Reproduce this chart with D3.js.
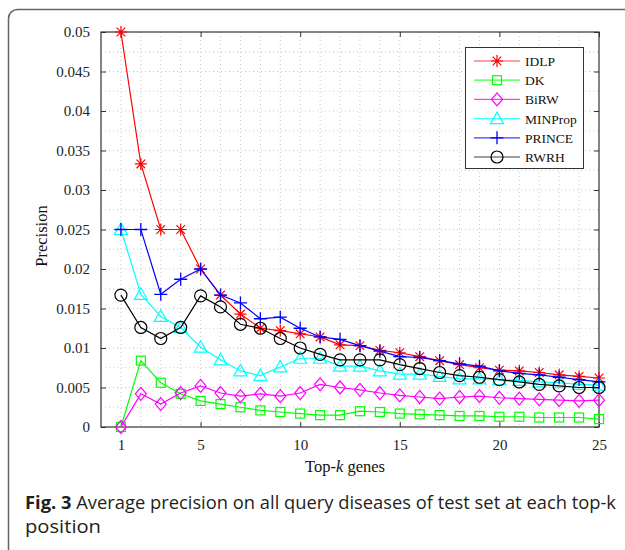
<!DOCTYPE html>
<html>
<head>
<meta charset="utf-8">
<script src="https://cdn.jsdelivr.net/npm/d3@7"></script>
<style>
  html, body { margin: 0; padding: 0; background: #fff; }
  svg { display: block; }
</style>
</head>
<body>
<svg id="chart" width="625" height="550"></svg>
<script>
// ---- data ----
const topK = d3.range(1, 26);
const seriesNames = ["IDLP", "DK", "BiRW", "MINProp", "PRINCE", "RWRH"];
const IDLP = [0.05, 0.0333, 0.025, 0.025, 0.02, 0.0167, 0.0143, 0.0125, 0.0122, 0.0118, 0.0114, 0.0104, 0.0103, 0.0097, 0.0094, 0.0089, 0.0084, 0.0079, 0.0075, 0.0072, 0.0071, 0.0069, 0.0066, 0.0064, 0.0062];
const DK = [0, 0.0084, 0.0056, 0.0042, 0.0033, 0.0029, 0.0025, 0.0021, 0.0019, 0.0017, 0.0015, 0.0015, 0.0020, 0.0019, 0.0017, 0.0016, 0.0015, 0.0014, 0.0014, 0.0013, 0.0013, 0.0012, 0.0012, 0.0012, 0.0010];
const BiRW = [0, 0.0042, 0.0029, 0.0043, 0.0052, 0.0043, 0.0039, 0.0042, 0.0039, 0.0043, 0.0054, 0.0050, 0.0047, 0.0043, 0.0040, 0.0038, 0.0036, 0.0038, 0.0039, 0.0037, 0.0036, 0.0035, 0.0034, 0.0033, 0.0034];
const MINProp = [0.025, 0.0168, 0.0140, 0.0126, 0.0101, 0.0085, 0.0071, 0.0065, 0.0076, 0.0087, 0.0087, 0.0077, 0.0077, 0.0071, 0.0067, 0.0067, 0.0064, 0.0061, 0.0061, 0.0060, 0.0059, 0.0057, 0.0056, 0.0054, 0.0053];
const PRINCE = [0.025, 0.025, 0.0168, 0.0187, 0.02, 0.0167, 0.0157, 0.0137, 0.0139, 0.0125, 0.0114, 0.0111, 0.0103, 0.0096, 0.0089, 0.0088, 0.0084, 0.0080, 0.0077, 0.0071, 0.0068, 0.0066, 0.0063, 0.0060, 0.0057];
const RWRH = [0.0167, 0.0126, 0.0112, 0.0126, 0.0166, 0.0152, 0.0130, 0.0125, 0.0112, 0.0100, 0.0092, 0.0085, 0.0085, 0.0085, 0.0079, 0.0074, 0.0069, 0.0065, 0.0063, 0.0060, 0.0057, 0.0054, 0.0052, 0.0050, 0.0050];
const xTicks = [1, 5, 10, 15, 20, 25];
const yTicks = [0, 0.005, 0.01, 0.015, 0.02, 0.025, 0.03, 0.035, 0.04, 0.045, 0.05];
const yTickLabels = ["0", "0.005", "0.01", "0.015", "0.02", "0.025", "0.03", "0.035", "0.04", "0.045", "0.05"];
const xLabel = "Top-k genes";
const yLabel = "Precision";
const captionBold = "Fig. 3";
const captionLine1 = " Average precision on all query diseases of test set at each top-k";
const captionLine2 = "position";

const seriesValues = [IDLP, DK, BiRW, MINProp, PRINCE, RWRH];
const colors = ["#ff0000", "#00ff00", "#ff00ff", "#00ffff", "#0000ff", "#000000"];
const markers = ["asterisk", "square", "diamond", "triangle", "plus", "circle"];

// ---- layout ----
const svg = d3.select("#chart");
const L = 101, R = 599, T = 32, B = 427;
const x = d3.scaleLinear().domain([0, 25]).range([L, R]);
const y = d3.scaleLinear().domain([0, 0.05]).range([B, T]);

// outer frame
svg.append("rect").attr("x", 8.5).attr("y", 9.5).attr("width", 800).attr("height", 800)
  .attr("rx", 9).attr("fill", "none").attr("stroke", "#666").attr("stroke-width", 1.5);

// grid
const g = svg.append("g");
g.selectAll("line.vg").data(d3.range(1, 25)).join("line")
  .attr("x1", d => x(d)).attr("x2", d => x(d)).attr("y1", T).attr("y2", B)
  .attr("stroke", "#c8c8c8").attr("stroke-width", 1).attr("stroke-dasharray", "1,3");
g.selectAll("line.hg").data(d3.range(1, 20).map(i => i * 0.0025)).join("line")
  .attr("x1", L).attr("x2", R).attr("y1", d => y(d)).attr("y2", d => y(d))
  .attr("stroke", "#c8c8c8").attr("stroke-width", 1).attr("stroke-dasharray", "1,3");

// axes
const fontSerif = "'Liberation Serif', 'Times New Roman', serif";
const axB = d3.axisBottom(x).tickValues(xTicks).tickSize(-5).tickPadding(12).tickFormat(d3.format("d"));
const axT = d3.axisTop(x).tickValues(xTicks).tickSize(-5).tickFormat("");
const axL = d3.axisLeft(y).tickValues(yTicks).tickSize(-5).tickPadding(11).tickFormat((d, i) => yTickLabels[i]);
const axR = d3.axisRight(y).tickValues(yTicks).tickSize(-5).tickFormat("");
function styleAxis(sel) {
  sel.select(".domain").remove();
  sel.selectAll(".tick line").attr("stroke", "#333");
  sel.selectAll(".tick text").attr("fill", "#222").style("font-family", fontSerif).style("font-size", "15px");
}
svg.append("g").attr("transform", `translate(0,${B})`).call(axB).call(styleAxis);
svg.append("g").attr("transform", `translate(0,${T})`).call(axT).call(styleAxis);
svg.append("g").attr("transform", `translate(${L},0)`).call(axL).call(styleAxis);
svg.append("g").attr("transform", `translate(${R},0)`).call(axR).call(styleAxis);
svg.append("rect").attr("x", L).attr("y", T).attr("width", R - L).attr("height", B - T)
  .attr("fill", "none").attr("stroke", "#333").attr("stroke-width", 1.2);

// markers
function drawMarker(sel, type, color) {
  const s = 6;
  if (type === "asterisk") {
    const d = s * 0.72;
    sel.append("path").attr("d", `M${-s},0H${s}M0,${-s}V${s}M${-d},${-d}L${d},${d}M${-d},${d}L${d},${-d}`)
      .attr("stroke", color).attr("stroke-width", 1.2).attr("fill", "none");
  } else if (type === "plus") {
    sel.append("path").attr("d", `M${-s - 0.5},0H${s + 0.5}M0,${-s - 0.5}V${s + 0.5}`)
      .attr("stroke", color).attr("stroke-width", 1.3).attr("fill", "none");
  } else if (type === "square") {
    sel.append("rect").attr("x", -4.5).attr("y", -4.5).attr("width", 9).attr("height", 9)
      .attr("stroke", color).attr("stroke-width", 1.2).attr("fill", "none");
  } else if (type === "diamond") {
    sel.append("path").attr("d", `M0,${-6.5}L5.5,0L0,6.5L-5.5,0Z`)
      .attr("stroke", color).attr("stroke-width", 1.2).attr("fill", "none");
  } else if (type === "triangle") {
    sel.append("path").attr("d", `M0,-6.5L6.5,5L-6.5,5Z`)
      .attr("stroke", color).attr("stroke-width", 1.2).attr("fill", "none");
  } else if (type === "circle") {
    sel.append("circle").attr("r", 6)
      .attr("stroke", color).attr("stroke-width", 1.2).attr("fill", "none");
  }
}

// series
const line = d3.line().x((d, i) => x(topK[i])).y(d => y(d));
seriesValues.forEach((vals, si) => {
  const sg = svg.append("g");
  sg.append("path").attr("d", line(vals)).attr("fill", "none")
    .attr("stroke", colors[si]).attr("stroke-width", 1.2);
  vals.forEach((v, i) => {
    const m = sg.append("g").attr("transform", `translate(${x(topK[i])},${y(v)})`);
    drawMarker(m, markers[si], colors[si]);
  });
});

// legend
const lg = svg.append("g");
lg.append("rect").attr("x", 465.5).attr("y", 47.5).attr("width", 118).attr("height", 121)
  .attr("fill", "#fff").attr("stroke", "#333").attr("stroke-width", 1);
seriesNames.forEach((name, i) => {
  const ly = 61 + i * 19.2;
  lg.append("line").attr("x1", 474).attr("x2", 520).attr("y1", ly).attr("y2", ly)
    .attr("stroke", colors[i]).attr("stroke-width", 1.2).attr("opacity", 0.75);
  const m = lg.append("g").attr("transform", `translate(497,${ly})`);
  drawMarker(m, markers[i], colors[i]);
  lg.append("text").attr("x", 525).attr("y", ly + 5).text(name)
    .style("font-family", fontSerif).style("font-size", "13.5px").attr("fill", "#111");
});

// axis labels
const xl = svg.append("text").attr("x", 345).attr("y", 472).attr("text-anchor", "middle")
  .style("font-family", fontSerif).style("font-size", "16.5px").attr("fill", "#111");
xl.append("tspan").text("Top-");
xl.append("tspan").text("k").style("font-style", "italic");
xl.append("tspan").text(" genes");

svg.append("text").attr("transform", "translate(47,236) rotate(-90)").attr("text-anchor", "middle")
  .style("font-family", fontSerif).style("font-size", "16.5px").attr("fill", "#111").text(yLabel);

// caption
const capFont = "'Open Sans', 'Noto Sans', sans-serif";
const c1 = svg.append("text").attr("x", 25).attr("y", 509)
  .attr("textLength", 591).attr("lengthAdjust", "spacingAndGlyphs")
  .style("font-family", capFont).style("font-size", "18px").attr("fill", "#231f20");
c1.append("tspan").text(captionBold).style("font-weight", "bold");
c1.append("tspan").text(captionLine1);
svg.append("text").attr("x", 25).attr("y", 533)
  .style("font-family", capFont).style("font-size", "18px").attr("fill", "#231f20")
  .attr("textLength", 76).attr("lengthAdjust", "spacingAndGlyphs")
  .text(captionLine2);
</script>
</body>
</html>
